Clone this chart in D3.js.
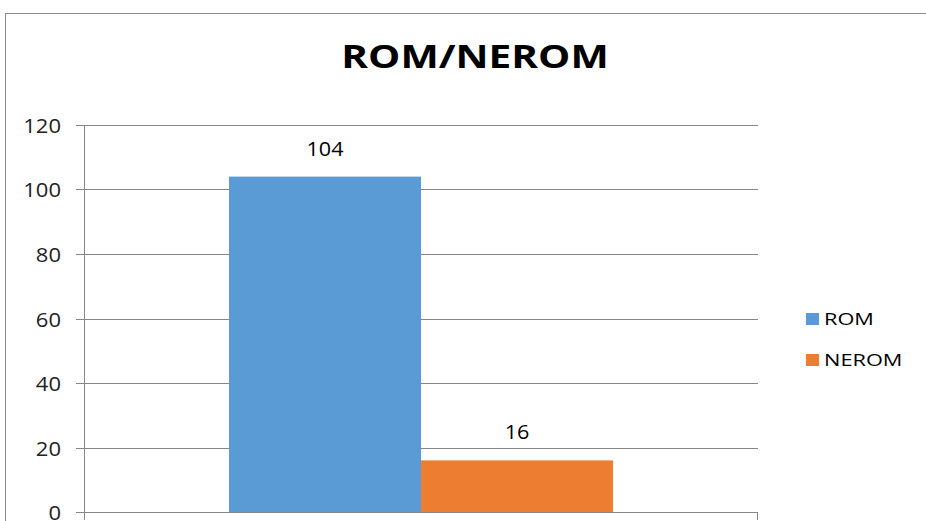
<!DOCTYPE html>
<html>
<head>
<meta charset="utf-8">
<script src="https://cdn.jsdelivr.net/npm/d3@7"></script>
<style>
  body { margin: 0; background: #fff; }
  svg { display: block; }
</style>
</head>
<body>
<div id="wrapper"></div>
<script>
// data
const categories = [""]
const seriesNames = ["ROM", "NEROM"]
const seriesValues = [104, 16]
const yTicks = [0, 20, 40, 60, 80, 100, 120]
const chartTitle = "ROM/NEROM"

const colors = ["#5B9BD5", "#ED7D31"]
const fontFamily = "'Open Sans', sans-serif"

// dimensions
const width = 926
const height = 521
const margin = { top: 125, left: 84, right: 168, bottom: 9 }
const boundedWidth = width - margin.left - margin.right
const boundedHeight = height - margin.top - margin.bottom

// canvas
const svg = d3.select("#wrapper").append("svg")
    .attr("width", width)
    .attr("height", height)

// chart frame (runs off the right and bottom of the picture)
svg.append("rect")
    .attr("x", 5.5)
    .attr("y", 13.5)
    .attr("width", 1000)
    .attr("height", 1000)
    .attr("fill", "none")
    .attr("stroke", "#8c8c8c")

// text stretched sideways a bit, like the reference
function stretchedText(parent, x, y, txt, size, sx, anchor, weight) {
  return parent.append("text")
      .attr("transform", `translate(${x},${y}) scale(${sx},1)`)
      .attr("text-anchor", anchor)
      .style("font-family", fontFamily)
      .style("font-size", size + "px")
      .style("font-weight", weight || "normal")
      .attr("fill", "#000")
      .text(txt)
}

stretchedText(svg, 475, 68, chartTitle, 32, 1.27, "middle", "bold")

const bounds = svg.append("g")
    .attr("transform", `translate(${margin.left},${margin.top})`)

// scales
const yScale = d3.scaleLinear()
    .domain([0, 120])
    .range([boundedHeight, 0])

const x0 = d3.scaleBand()
    .domain(categories)
    .range([0, boundedWidth])
    .paddingOuter(0.3776)

const x1 = d3.scaleBand()
    .domain(seriesNames)
    .range([0, x0.bandwidth()])

// gridlines + y axis
const yAxis = d3.axisLeft(yScale)
    .tickValues(yTicks)
    .tickSize(8)
    .tickFormat(d3.format("d"))

const yAxisG = bounds.append("g").call(yAxis)
yAxisG.select(".domain").remove()
yAxisG.selectAll(".tick line").attr("stroke", "#868686")
yAxisG.selectAll(".tick text")
    .attr("x", null).attr("dy", null)
    .attr("transform", "translate(-23,7) scale(1.1,1)")
    .style("font-family", fontFamily)
    .style("font-size", "20px")
    .attr("fill", "#222")

bounds.append("g")
  .selectAll("line")
  .data(yTicks)
  .join("line")
    .attr("x1", 0)
    .attr("x2", boundedWidth)
    .attr("y1", d => Math.round(yScale(d)) + 0.5)
    .attr("y2", d => Math.round(yScale(d)) + 0.5)
    .attr("stroke", "#868686")

yAxisG.selectAll(".tick").attr("transform", d => `translate(0,${Math.round(yScale(d)) + 0.5})`)

// vertical axis line
bounds.append("line")
    .attr("x1", 0.5).attr("x2", 0.5)
    .attr("y1", 0).attr("y2", boundedHeight + 8)
    .attr("stroke", "#868686")

// category axis ticks
bounds.append("line")
    .attr("x1", boundedWidth - 0.5).attr("x2", boundedWidth - 0.5)
    .attr("y1", boundedHeight).attr("y2", boundedHeight + 8)
    .attr("stroke", "#868686")

// bars
const barData = seriesNames.map((s, i) => ({ name: s, value: seriesValues[i], cat: categories[0] }))

const barGroups = bounds.selectAll(".bar")
  .data(barData)
  .join("g")
    .attr("class", "bar")

barGroups.append("rect")
    .attr("x", d => x0(d.cat) + x1(d.name))
    .attr("y", d => yScale(d.value))
    .attr("width", x1.bandwidth())
    .attr("height", d => boundedHeight - yScale(d.value))
    .attr("fill", (d, i) => colors[i])

barGroups.each(function(d) {
  stretchedText(d3.select(this),
      x0(d.cat) + x1(d.name) + x1.bandwidth() / 2,
      yScale(d.value) - 21,
      d.value, 20, 1.08, "middle")
})

// legend
const legend = svg.append("g")
    .attr("transform", "translate(806,313)")

seriesNames.forEach((s, i) => {
  const row = legend.append("g").attr("transform", `translate(0,${i * 41})`)
  row.append("rect")
      .attr("width", 13)
      .attr("height", 12)
      .attr("fill", colors[i])
  stretchedText(row, 18, 12, s, 17, 1.28, "start")
})
</script>
</body>
</html>
